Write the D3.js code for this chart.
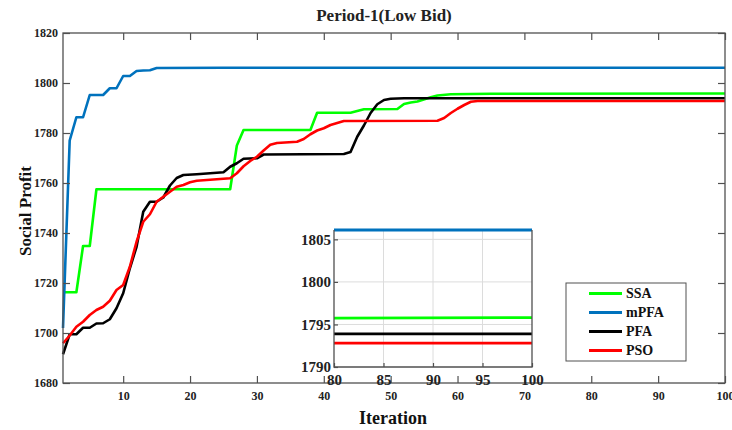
<!DOCTYPE html>
<html>
<head>
<meta charset="utf-8">
<script src="https://cdn.jsdelivr.net/npm/d3@7"></script>
<style>
  body { margin: 0; background: #fff; }
  svg text { font-family: "Liberation Serif", "Times New Roman", serif; font-weight: bold; }
</style>
</head>
<body>
<svg id="chart" width="732" height="430"></svg>
<script>
// values, [iteration, social profit]
const ssa = [[1,1716.3],[3,1716.3],[4,1734.8],[5,1734.8],[6,1757.5],[26,1757.5],[27,1775],[28,1781.2],
  [38,1781.2],[39,1788.1],[44,1788.1],[45,1788.8],[46,1789.5],[51,1789.6],[52,1791.6],[53,1792.2],
  [54,1792.6],[56,1794.3],[57,1795],[59,1795.5],[65,1795.7],[100,1795.8]]
const mpfa = [[1,1702],[2,1777],[3,1786.3],[4,1786.3],[5,1795.2],[7,1795.2],[8,1797.9],[9,1797.9],
  [10,1802.8],[11,1802.8],[12,1804.8],[13,1805],[14,1805.1],[15,1806],[25,1806.1],[100,1806.1]]
const pfa = [[1,1691.5],[2,1699.5],[3,1699.5],[4,1702.1],[5,1702.1],[6,1703.8],[7,1703.9],[8,1705.5],
  [9,1709.9],[10,1715.9],[11,1725.9],[12,1734.5],[13,1748.5],[14,1752.5],[15,1752.5],[16,1754.2],
  [17,1759],[18,1762],[19,1763.2],[21,1763.5],[25,1764.3],[26,1766.5],[27,1767.9],[28,1769.7],
  [30,1769.9],[31,1771.4],[43,1771.6],[44,1772.4],[45,1778.5],[46,1783],[47,1788],[48,1791.5],
  [49,1793.2],[50,1793.7],[52,1793.9],[100,1793.9]]
const pso = [[1,1695.9],[2,1699],[3,1702.5],[4,1704.5],[5,1707.2],[6,1709.2],[7,1710.5],[8,1712.9],
  [9,1717.2],[10,1719.2],[11,1726.5],[12,1736.5],[13,1744.5],[14,1747.5],[15,1752.5],[16,1754.5],
  [17,1756.5],[18,1758.5],[19,1759.2],[20,1760.3],[21,1760.9],[26,1761.9],[27,1763.9],[28,1766.7],
  [29,1768.8],[30,1770.5],[31,1773],[32,1775.3],[33,1776],[36,1776.5],[37,1777.6],[38,1779.5],
  [39,1781],[40,1781.9],[41,1783.2],[42,1784],[43,1784.8],[57,1784.9],[58,1786],[59,1788],
  [60,1789.7],[61,1791.2],[62,1792.5],[63,1792.8],[100,1792.8]]

const seriesNames = ["SSA", "mPFA", "PFA", "PSO"]
const seriesColors = ["#00ff00", "#0072bd", "#000000", "#ff0000"]
const seriesData = [ssa, mpfa, pfa, pso]

const xTicks = [10, 20, 30, 40, 50, 60, 70, 80, 90, 100]
const yTicks = [1680, 1700, 1720, 1740, 1760, 1780, 1800, 1820]
const insetXTicks = [80, 85, 90, 95, 100]
const insetYTicks = [1790, 1795, 1800, 1805]

const svg = d3.select("#chart")
const axisColor = "#505050"
const fmt = d3.format("d")

const x = d3.scaleLinear().domain([1, 100]).range([63, 725])
const y = d3.scaleLinear().domain([1680, 1820]).range([383, 33])

const line = d3.line().x(d => x(d[0])).y(d => y(d[1]))

// lines
svg.append("g")
  .selectAll("path")
  .data(seriesData)
  .join("path")
  .attr("fill", "none")
  .attr("stroke", (d, i) => seriesColors[i])
  .attr("stroke-width", 2.6)
  .attr("stroke-linejoin", "round")
  .attr("d", line)

// axes with inward ticks
function styleAxis(g, size) {
  g.attr("font-family", null).attr("font-size", null)
  g.select(".domain").remove()
  g.selectAll(".tick line").attr("stroke", axisColor).attr("stroke-width", 1.2)
  g.selectAll(".tick text").attr("fill", "#222").style("font-size", size + "px")
}

svg.append("g").attr("transform", "translate(0,383)")
  .call(d3.axisBottom(x).tickValues(xTicks).tickFormat(fmt).tickSizeInner(-7).tickSizeOuter(0).tickPadding(8))
  .call(styleAxis, 12)
svg.append("g").attr("transform", "translate(0,33)")
  .call(d3.axisTop(x).tickValues(xTicks).tickSizeInner(-7).tickSizeOuter(0).tickFormat(""))
  .call(styleAxis, 12)
svg.append("g").attr("transform", "translate(63,0)")
  .call(d3.axisLeft(y).tickValues(yTicks).tickFormat(fmt).tickSizeInner(-7).tickSizeOuter(0).tickPadding(5))
  .call(styleAxis, 12)
svg.append("g").attr("transform", "translate(725,0)")
  .call(d3.axisRight(y).tickValues(yTicks).tickSizeInner(-7).tickSizeOuter(0).tickFormat(""))
  .call(styleAxis, 12)

svg.append("rect")
  .attr("x", 63).attr("y", 33).attr("width", 725 - 63).attr("height", 383 - 33)
  .attr("fill", "none").attr("stroke", axisColor).attr("stroke-width", 1.3)

// labels
svg.append("text").attr("x", 384).attr("y", 21).attr("text-anchor", "middle")
  .style("font-size", "17px").attr("fill", "#222").text("Period-1(Low Bid)")
svg.append("text").attr("x", 393).attr("y", 424).attr("text-anchor", "middle")
  .style("font-size", "18px").attr("fill", "#111").text("Iteration")
svg.append("text").attr("transform", "translate(31,211) rotate(-90)").attr("text-anchor", "middle")
  .style("font-size", "17px").attr("fill", "#111").text("Social Profit")

// inset
const ix = d3.scaleLinear().domain([80, 100]).range([334, 532])
const iy = d3.scaleLinear().domain([1790, 1806.1]).range([367, 230])
const inset = svg.append("g")

inset.append("rect")
  .attr("x", 334).attr("y", 230).attr("width", 532 - 334).attr("height", 367 - 230)
  .attr("fill", "#fff")

inset.append("clipPath").attr("id", "insetClip")
  .append("rect").attr("x", 334).attr("y", 228).attr("width", 532 - 334).attr("height", 367 - 228)

inset.append("g").selectAll("line").data(insetXTicks.slice(1, -1)).join("line")
  .attr("x1", d => ix(d)).attr("x2", d => ix(d)).attr("y1", 230).attr("y2", 367)
  .attr("stroke", "#dcdcdc").attr("stroke-width", 1)
inset.append("g").selectAll("line").data(insetYTicks.slice(1)).join("line")
  .attr("x1", 334).attr("x2", 532).attr("y1", d => iy(d)).attr("y2", d => iy(d))
  .attr("stroke", "#dcdcdc").attr("stroke-width", 1)

const iline = d3.line().x(d => ix(d[0])).y(d => iy(d[1]))
inset.append("g").attr("clip-path", "url(#insetClip)")
  .selectAll("path")
  .data(seriesData)
  .join("path")
  .attr("fill", "none")
  .attr("stroke", (d, i) => seriesColors[i])
  .attr("stroke-width", 2.8)
  .attr("d", iline)

inset.append("g").attr("transform", "translate(0,367)")
  .call(d3.axisBottom(ix).tickValues(insetXTicks).tickFormat(fmt).tickSizeInner(-4).tickSizeOuter(0).tickPadding(7))
  .call(styleAxis, 15)
inset.append("g").attr("transform", "translate(334,0)")
  .call(d3.axisLeft(iy).tickValues(insetYTicks).tickFormat(fmt).tickSizeInner(-4).tickSizeOuter(0).tickPadding(3))
  .call(styleAxis, 15)

inset.append("path")
  .attr("d", `M334,230V367H532V230`)
  .attr("fill", "none").attr("stroke", axisColor).attr("stroke-width", 1.3)

// legend
const legend = svg.append("g").attr("transform", "translate(566,283)")
legend.append("rect").attr("width", 120).attr("height", 78)
  .attr("fill", "#fff").attr("stroke", axisColor).attr("stroke-width", 1)
const item = legend.selectAll(".item").data(seriesNames).join("g")
  .attr("transform", (d, i) => `translate(0,${10.5 + i * 19})`)
item.append("line").attr("x1", 23).attr("x2", 56)
  .attr("stroke", (d, i) => seriesColors[i]).attr("stroke-width", 2.8)
item.append("text").attr("x", 60).attr("dy", "0.35em")
  .style("font-size", "14px").attr("fill", "#111").text(d => d)
</script>
</body>
</html>
